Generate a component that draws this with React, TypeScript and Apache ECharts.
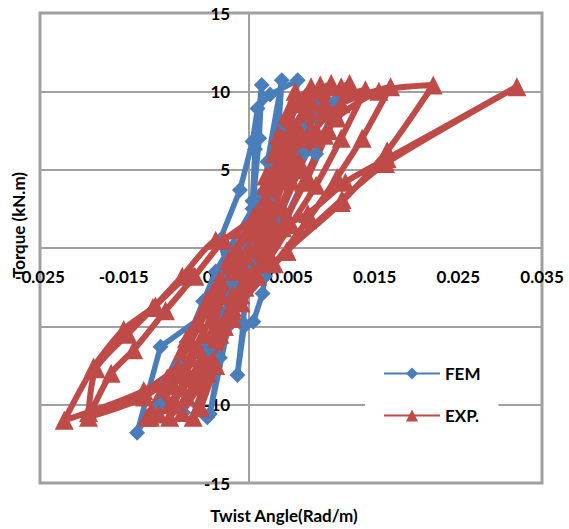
import React, { useEffect, useRef } from "react";
import * as echarts from "echarts";

// Tick labels / axis settings
const xTicks = [-0.025, -0.015, -0.005, 0.005, 0.015, 0.025, 0.035];
const yTicks = [-15, -10, -5, 0, 5, 10, 15];

// FEM series (twist angle, torque)
const femX = [
  0, 0.0004, 0.0007, 0.0015, 0.0012, 0.0004, -0.0003, -0.0007, -0.0014,
  -0.0006, 0.0005, 0.0016, 0.0019, 0.0015, 0.0022, 0.0039,
  0.0035, 0.0022, 0.0, -0.0025, -0.0047,
  -0.0035, -0.0015, -0.0035, -0.0011, 0.0004, 0.001, 0.0025, 0.0058,
  0.0048, 0.0025, -0.0015, -0.0055, -0.0079,
  -0.005, -0.0025, 0.001, 0.0045, 0.008,
  0.0065, 0.0035, -0.0015, -0.0055, -0.0085, -0.0107,
  -0.0075, -0.004, 0.0015, 0.0065, 0.0104,
  0.008, 0.004, -0.002, -0.0106, -0.0134, -0.0098, -0.005,
];
const femY = [
  0, 3.0, 6.3, 10.4, 7.0, 2.5, -1.5, -4.8, -8.1,
  -5.0, -4.7, -2.9, -1.8, 1.2, 5.5, 10.7,
  7.5, 3.0, -1.0, -5.0, -10.6,
  -7.0, -3.5, 0.5, 3.7, 6.8, 8.9, 9.8, 10.7,
  7.0, 2.5, -2.5, -6.5, -10.5,
  -6.5, -2.0, 2.5, 6.5, 9.0,
  6.0, 2.0, -2.5, -3.4, -7.5, -10.0,
  -6.0, -1.5, 3.5, 7.5, 9.4,
  6.0, 1.5, -3.0, -6.3, -11.8, -8.5, -10.8,
];

// EXP. series (twist angle, torque)
const expX = [
  0, 0.001, 0.002, 0.003, 0.0045, 0.0074, 0.006, 0.0045, 0.003, 0.001,
  -0.001, -0.003, -0.0045, -0.0067, -0.005, -0.0035, -0.002, -0.0005,
  0.001, 0.002, 0.0035, 0.0055, 0.0045, 0.003, 0.0015,
  -0.0005, -0.0025, -0.004, -0.0058, -0.0042, -0.0028, -0.0012,
  0.001, 0.0025, 0.004, 0.006, 0.0098, 0.008, 0.006, 0.004, 0.002,
  -0.0005, -0.003, -0.005, -0.0075, -0.0095, -0.0075, -0.0055, -0.0035, -0.0015,
  0.0005, 0.0025, 0.0045, 0.0085, 0.007, 0.005, 0.003, 0.0005,
  -0.002, -0.0045, -0.008, -0.006, -0.004, -0.002,
  0.001, 0.003, 0.005, 0.0075, 0.012, 0.0095, 0.007, 0.0045, 0.002,
  -0.001, -0.004, -0.007, -0.0095, -0.0122, -0.0098, -0.0075, -0.005, -0.0025,
  0.002, 0.0045, 0.007, 0.011, 0.009, 0.0065, 0.004, 0.001,
  -0.003, -0.0065, -0.0108, -0.0085, -0.006, -0.0035,
  0.0005, 0.003, 0.006, 0.009, 0.0139, 0.011, 0.008, 0.005, 0.002,
  -0.002, -0.006, -0.009, -0.0118, -0.0095, -0.007, -0.0045, -0.002,
  0.001, 0.004, 0.007, 0.011, 0.0169, 0.0135, 0.0105, 0.007, 0.003,
  -0.002, -0.007, -0.0125, -0.0192, -0.0165, -0.0138, -0.01, -0.0065, -0.003,
  0.002, 0.006, 0.0105, 0.0155, 0.022, 0.0165, 0.011, 0.0045,
  -0.001, -0.006, -0.0126, -0.0221, -0.0186, -0.015, -0.0115, -0.008, -0.004,
  0.002, 0.007, 0.0115, 0.0165, 0.032, 0.0163, 0.0111, 0.0045,
  -0.001, -0.007, -0.0125, -0.0192, -0.0183, -0.0145, -0.0112, -0.007,
];
const expY = [
  0, 2, 4, 6, 8.5, 10.3, 7.5, 5, 2.5, 0,
  -2.5, -5, -7.5, -10.8, -8, -5.5, -3, -0.5,
  2.3, 4.6, 7.2, 10.0, 7, 4.2, 1.5,
  -1.5, -4.5, -7.5, -10.2, -7.3, -4.5, -1.5,
  2, 4.5, 7, 9.2, 10.5, 7.5, 5, 2.5, 0,
  -2.5, -5, -7.5, -9.5, -10.8, -8, -5.5, -3, -0.5,
  1.5, 4.3, 7, 10.4, 7.2, 4.3, 1.5, -1.5,
  -4.5, -7.5, -10.5, -7.5, -4.5, -1.5,
  2.2, 4.8, 7.2, 9.3, 10.5, 7.5, 4.5, 2, -0.5,
  -3, -5.8, -8.3, -10, -10.8, -8.3, -5.8, -3.3, -0.8,
  3.2, 6.3, 8.8, 10.3, 7.2, 4.2, 1.3, -1.8,
  -5, -8, -10.6, -7.6, -4.8, -2,
  2, 4.5, 7, 9.2, 10.1, 7, 4, 1.5, -1,
  -3.8, -6.5, -8.8, -10.8, -8.5, -6, -3.5, -1,
  1.5, 4.5, 7, 9.2, 10.3, 7, 4.5, 1.8, -1,
  -4, -7, -9.5, -10.8, -8, -6.5, -4, -1.8, 0.5,
  2.5, 5.5, 8.3, 10.0, 10.4, 6.2, 2.9, -0.2,
  -3.5, -6.5, -9.1, -11, -7.6, -5.2, -3.8, -1.8, 0.5,
  1, 2.2, 4.2, 5.7, 10.3, 5.4, 3.1, -0.2,
  -3.5, -7, -9.5, -10.5, -7.7, -5.5, -3.7, -1.5,
];

const FONT = "Lato";
const GRAY = "#a0a0a0";

// plot area geometry
const GRID_LEFT = 40;
const GRID_RIGHT = 27;
const GRID_TOP = 13;
const GRID_BOTTOM = 46;
const W = 569;
const H = 529;

export default function App() {
  const ref = useRef<HTMLDivElement>(null);
  useEffect(() => {
    if (!ref.current) return;
    const chart = echarts.init(ref.current, null, { renderer: "svg" });
    const fem = femX.map((x, i) => [x, femY[i]]);
    const exp = expX.map((x, i) => [x, expY[i]]);
    const xMin = xTicks[0];
    const xMax = xTicks[xTicks.length - 1];
    const yMin = yTicks[0];
    const yMax = yTicks[yTicks.length - 1];
    const plotW = W - GRID_LEFT - GRID_RIGHT;
    const plotH = H - GRID_TOP - GRID_BOTTOM;
    // offsets to place the axes where the other axis is zero
    const yAxisOffset = -((0 - xMin) / (xMax - xMin)) * plotW;
    const xAxisOffset = -((0 - yMin) / (yMax - yMin)) * plotH;
    const labelStyle = {
      fontFamily: FONT,
      fontWeight: "bold" as const,
      fontSize: 17,
      color: "#000",
    };
    chart.setOption({
      animation: false,
      backgroundColor: "#fff",
      grid: {
        left: GRID_LEFT,
        right: GRID_RIGHT,
        top: GRID_TOP,
        bottom: GRID_BOTTOM,
        show: true,
        borderColor: GRAY,
        borderWidth: 3,
        backgroundColor: "transparent",
      },
      xAxis: {
        type: "value",
        min: xMin,
        max: xMax,
        interval: 0.01,
        position: "bottom",
        offset: xAxisOffset,
        axisLine: { show: true, onZero: false, lineStyle: { color: GRAY, width: 2 } },
        axisTick: { show: false },
        splitLine: { show: false },
        axisLabel: {
          ...labelStyle,
          margin: 20,
          formatter: (v: number) => v.toFixed(3),
        },
      },
      yAxis: {
        type: "value",
        min: yMin,
        max: yMax,
        interval: 5,
        position: "left",
        offset: yAxisOffset,
        axisLine: { show: true, onZero: false, lineStyle: { color: GRAY, width: 2 } },
        axisTick: { show: false },
        splitLine: { show: true, lineStyle: { color: GRAY, width: 2 } },
        axisLabel: { ...labelStyle, margin: 19 },
      },
      legend: {
        data: ["FEM", "EXP."],
        orient: "vertical",
        left: 365,
        top: 357,
        itemWidth: 56,
        itemHeight: 15,
        itemGap: 25,
        padding: [8, 18, 8, 18],
        backgroundColor: "#fff",
        textStyle: { ...labelStyle },
      },
      graphic: [
        {
          type: "text",
          x: 18,
          y: 225,
          rotation: Math.PI / 2,
          z: 100,
          style: {
            text: "Torque (kN.m)",
            fontFamily: FONT,
            fontWeight: "bold",
            fontSize: 17,
            fill: "#000",
            align: "center",
            verticalAlign: "middle",
          },
        },
        {
          type: "text",
          x: 284,
          y: 515,
          style: {
            text: "Twist Angle(Rad/m)",
            fontFamily: FONT,
            fontWeight: "bold",
            fontSize: 17,
            fill: "#000",
            align: "center",
            verticalAlign: "middle",
          },
        },
      ],
      series: [
        {
          name: "FEM",
          type: "line",
          data: fem,
          symbol: "diamond",
          symbolSize: 16,
          color: "#4a7ebb",
          lineStyle: { width: 5.5, color: "#4a7ebb" },
          itemStyle: { color: "#4a7ebb" },
        },
        {
          name: "EXP.",
          type: "line",
          data: exp,
          smooth: 0.25,
          symbol: "triangle",
          symbolSize: 19,
          color: "#be4b48",
          lineStyle: { width: 6, color: "#be4b48" },
          itemStyle: { color: "#be4b48" },
        },
      ],
    });
    return () => chart.dispose();
  }, []);
  return (
    <div
      ref={ref}
      style={{ position: "fixed", left: 0, top: 0, width: W, height: H }}
    />
  );
}
